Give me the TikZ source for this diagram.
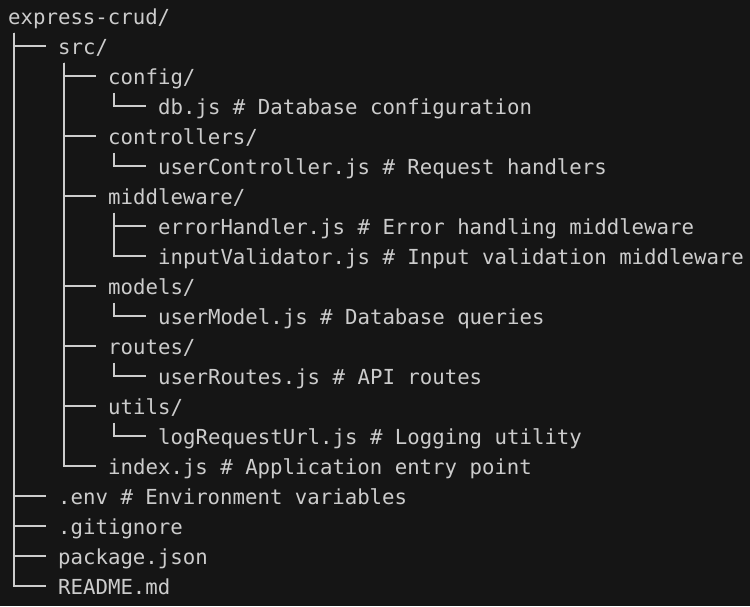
\documentclass[tikz,border=0pt]{standalone}
\usepackage{fontspec}
\newfontfamily\codefont{DejaVu Sans Mono}
\usetikzlibrary{trees}
\definecolor{bg}{HTML}{151515}
\definecolor{fg}{HTML}{CCCCCC}
\begin{document}
\begin{tikzpicture}[every node/.style={anchor=west},growth parent anchor=west,
    n/.style={font=\codefont\fontsize{20.7}{30}\selectfont,text=fg,
    inner sep=0pt,text height=19.5pt,text depth=3.5pt},
    grow via three points={one child at (50pt,-30pt) and
    two children at (50pt,-30pt) and (50pt,-60pt)},
    edge from parent/.style={draw=fg,line width=1.6pt},
    edge from parent path={([shift={(6.25pt,-5pt)}]\tikzparentnode.south west)
      |- ([xshift=-12.5pt]\tikzchildnode.west)}]
\useasboundingbox[fill=bg] (0,0) rectangle (750pt,-606pt);
\node[n] (root) at (8pt,-16pt) {express-crud/}
    child{ node[n] (src) {src/}
      child{ node[n] (config) {config/}
        child{ node[n] (db) {db.js \# Database configuration} }
      }
      child[missing] {}
      child{ node[n] (controllers) {controllers/}
        child{ node[n] (userctrl) {userController.js \# Request handlers} }
      }
      child[missing] {}
      child{ node[n] (middleware) {middleware/}
        child{ node[n] (errh) {errorHandler.js \# Error handling middleware} }
        child{ node[n] (inputv) {inputValidator.js \# Input validation middleware} }
      }
      child[missing] {}
      child[missing] {}
      child{ node[n] (models) {models/}
        child{ node[n] (usermodel) {userModel.js \# Database queries} }
      }
      child[missing] {}
      child{ node[n] (routes) {routes/}
        child{ node[n] (userroutes) {userRoutes.js \# API routes} }
      }
      child[missing] {}
      child{ node[n] (utils) {utils/}
        child{ node[n] (logurl) {logRequestUrl.js \# Logging utility} }
      }
      child[missing] {}
      child{ node[n] (index) {index.js \# Application entry point} }
    }
    child[missing] foreach \i in {1,...,14} {}
    child{ node[n] (env) {.env \# Environment variables} }
    child{ node[n] (gitignore) {.gitignore} }
    child{ node[n] (package) {package.json} }
    child{ node[n] (readme) {README.md} }
;
\end{tikzpicture}
\end{document}
